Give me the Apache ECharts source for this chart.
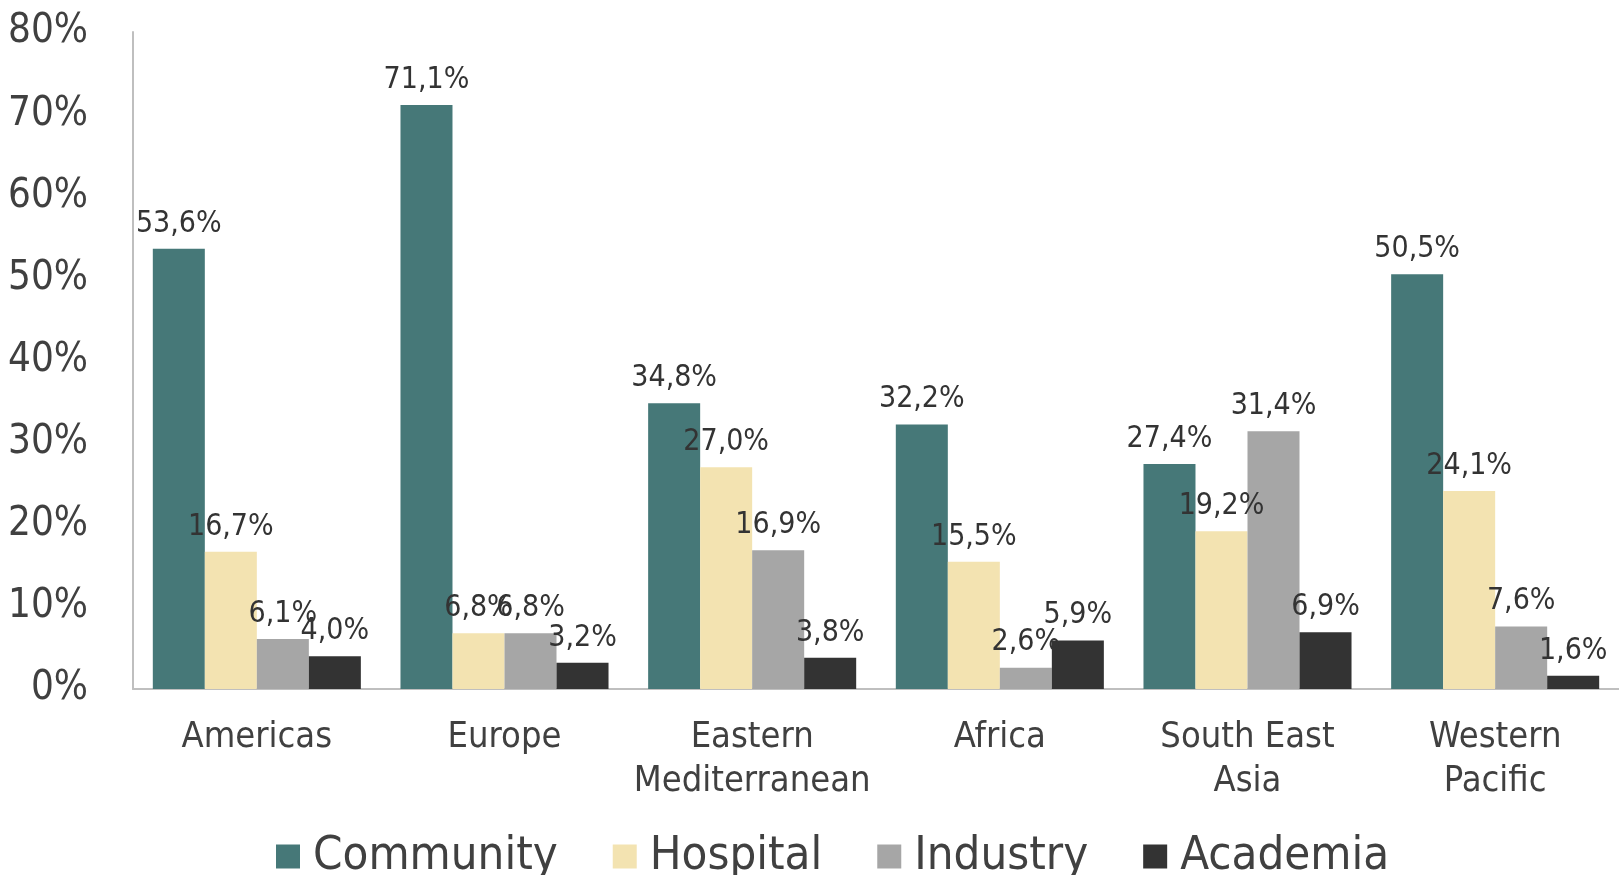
<!DOCTYPE html>
<html><head><meta charset="utf-8">
<script src="https://cdn.jsdelivr.net/npm/echarts@6/dist/echarts.min.js"></script>
<style>html,body{margin:0;padding:0;background:#fff}#c{width:1619px;height:875px}</style>
</head><body><div id="c"></div>
<script>
const categories = ['Americas', 'Europe', 'Eastern\nMediterranean', 'Africa', 'South East\nAsia', 'Western\nPacific'];
const community = [53.6, 71.1, 34.8, 32.2, 27.4, 50.5];
const hospital = [16.7, 6.8, 27.0, 15.5, 19.2, 24.1];
const industry = [6.1, 6.8, 16.9, 2.6, 31.4, 7.6];
const academia = [4.0, 3.2, 3.8, 5.9, 6.9, 1.6];
const yTicks = [0, 10, 20, 30, 40, 50, 60, 70, 80];

const seriesDefs = [
  ['Community', community, '#467878'],
  ['Hospital', hospital, '#F3E3B1'],
  ['Industry', industry, '#A6A6A6'],
  ['Academia', academia, '#333333']
];
const labelFont = '"DejaVu Sans Condensed","DejaVu Sans",sans-serif';
const chart = echarts.init(document.getElementById('c'));
chart.setOption({
  animation: false,
  grid: {left: 133, top: 32, right: 0, bottom: 186, containLabel: false, outerBoundsMode: 'none'},
  legend: {
    bottom: -10, left: 271, padding: 5, itemWidth: 24, itemHeight: 24, itemGap: 55, icon: 'rect',
    textStyle: {fontFamily: labelFont, fontSize: 47, color: '#404040', padding: [0, 0, 0, 8]}
  },
  xAxis: {
    type: 'category', data: categories,
    axisLine: {lineStyle: {color: '#BFBFBF', width: 2}},
    axisTick: {show: false},
    axisLabel: {fontFamily: labelFont, fontSize: 36, lineHeight: 44, color: '#404040', margin: 27, interval: 0}
  },
  yAxis: {
    type: 'value', min: yTicks[0], max: yTicks[yTicks.length - 1], interval: 10,
    axisLine: {show: true, lineStyle: {color: '#BFBFBF', width: 2}},
    axisTick: {show: false},
    splitLine: {show: false},
    axisLabel: {fontFamily: labelFont, fontSize: 40, color: '#404040', margin: 45, formatter: v => v + '%'}
  },
  series: seriesDefs.map(([name, data, color]) => ({
    name, type: 'bar', data, barGap: '0%', barCategoryGap: '16%',
    itemStyle: {color},
    label: {
      show: true, position: 'top', distance: 10,
      fontFamily: labelFont, fontSize: 30, color: '#333333',
      formatter: p => p.value.toFixed(1).replace('.', ',') + '%'
    }
  }))
});
</script></body></html>
